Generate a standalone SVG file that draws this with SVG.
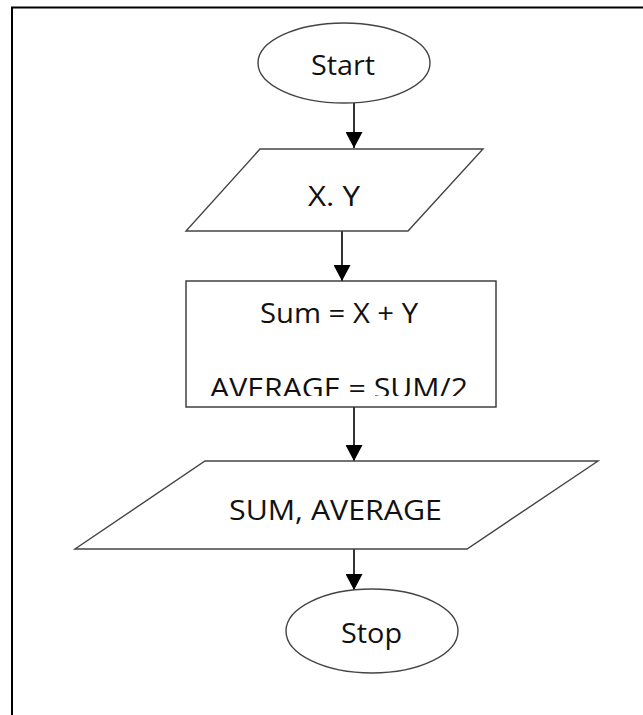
<svg xmlns="http://www.w3.org/2000/svg" width="643" height="715" viewBox="0 0 643 715">
<style>
.t{font-family:"Open Sans","Noto Sans","Liberation Sans",sans-serif;font-size:28px;fill:#111;text-anchor:middle}
.sh{fill:#fff;stroke:#444;stroke-width:1.4}
.cn{stroke:#000;stroke-width:1.6;fill:none}
</style>
<defs>
<marker id="ah" markerUnits="userSpaceOnUse" markerWidth="16" markerHeight="17" viewBox="0 0 16 17" refX="16" refY="8.5" orient="auto">
<path d="M0,0 L16,8.5 L0,17 Z" fill="#000"/>
</marker>
<clipPath id="boxclip"><rect x="186" y="281" width="310" height="115"/></clipPath>
</defs>
<rect width="643" height="715" fill="#fff"/>
<path d="M12 716 V7.5 H644" fill="none" stroke="#000" stroke-width="2"/>
<g id="connectors">
<path class="cn" d="M354 103 V148" marker-end="url(#ah)"/>
<path class="cn" d="M342 231 V281" marker-end="url(#ah)"/>
<path class="cn" d="M354 407 V461" marker-end="url(#ah)"/>
<path class="cn" d="M354 549 V590" marker-end="url(#ah)"/>
</g>
<g id="start">
<ellipse class="sh" cx="344" cy="63" rx="86" ry="40"/>
<text class="t" x="343" y="75" textLength="64" lengthAdjust="spacingAndGlyphs">Start</text>
</g>
<g id="input">
<polygon class="sh" points="260,149 483,149 408,231 186,231"/>
<text class="t" x="334" y="206" textLength="52" lengthAdjust="spacingAndGlyphs">X. Y</text>
</g>
<g id="process">
<rect class="sh" x="186" y="281" width="310" height="126" style="stroke:#333"/>
<text class="t" x="339" y="323" textLength="158" lengthAdjust="spacingAndGlyphs">Sum = X + Y</text>
<text class="t" x="339" y="398" textLength="258" lengthAdjust="spacingAndGlyphs" clip-path="url(#boxclip)">AVERAGE = SUM/2</text>
</g>
<g id="output">
<polygon class="sh" points="205,461 598,461 467,549 75,549"/>
<text class="t" x="335.5" y="520" textLength="213" lengthAdjust="spacingAndGlyphs">SUM, AVERAGE</text>
</g>
<g id="stop">
<ellipse class="sh" cx="372" cy="631" rx="86" ry="42"/>
<text class="t" x="371.5" y="643" textLength="61" lengthAdjust="spacingAndGlyphs">Stop</text>
</g>
</svg>
